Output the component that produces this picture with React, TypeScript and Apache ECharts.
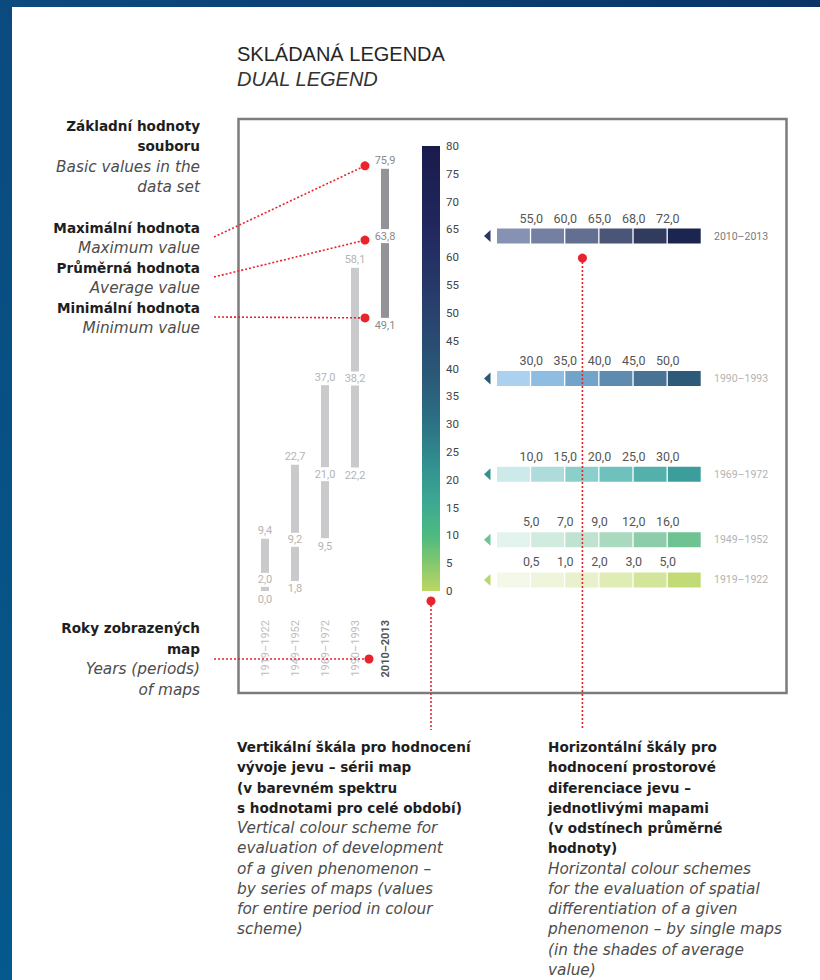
import React, { useEffect, useRef } from 'react';
import * as echarts from 'echarts';

// ---------- data ----------
const periods = ['1919–1922', '1949–1952', '1969–1972', '1990–1993', '2010–2013'];
const minValues = [0.0, 1.8, 9.5, 22.2, 49.1];
const avgValues = [2.0, 9.2, 21.0, 38.2, 63.8];
const maxValues = [9.4, 22.7, 37.0, 58.1, 75.9];
const scaleMin = 0;
const scaleMax = 80;
const scaleStep = 5;
const classBreaks = [
  [0.5, 1.0, 2.0, 3.0, 5.0],
  [5.0, 7.0, 9.0, 12.0, 16.0],
  [10.0, 15.0, 20.0, 25.0, 30.0],
  [30.0, 35.0, 40.0, 45.0, 50.0],
  [55.0, 60.0, 65.0, 68.0, 72.0],
];
const classColors = [
  ['#f4f8e8', '#eef5da', '#e8f1cb', '#dfecb4', '#d3e59b', '#c3db76'],
  ['#e3f3ee', '#d2ebdf', '#c0e3d1', '#a9d9bf', '#8ecdaa', '#6dc391'],
  ['#cdeaea', '#aedcdc', '#8bcfcc', '#6ec1bc', '#53b0ab', '#3c9e9b'],
  ['#abd1ee', '#8fbde2', '#72a4c9', '#5e8bb0', '#487395', '#2e5a7a'],
  ['#8592b3', '#7380a1', '#636f90', '#4b5577', '#303b5e', '#1b254f'],
];
const markerColors = ['#b9d76f', '#6cc39a', '#35918e', '#2b5873', '#2a3566'];
const scaleStops = [
  [0, '#191b4b'],
  [0.2, '#22295f'],
  [0.35, '#283e6c'],
  [0.5, '#2a5676'],
  [0.62, '#2c7084'],
  [0.72, '#32918f'],
  [0.8, '#3da893'],
  [0.88, '#4fbb80'],
  [0.94, '#86c86c'],
  [1, '#bcd763'],
];

const titleLines = ['SKLÁDANÁ LEGENDA', 'DUAL LEGEND'];
const noteBasic = [['Základní hodnoty', 'b'], ['souboru', 'b'], ['Basic values in the', 'i'], ['data set', 'i']];
const noteMinMax = [
  ['Maximální hodnota', 'b'], ['Maximum value', 'i'],
  ['Průměrná hodnota', 'b'], ['Average value', 'i'],
  ['Minimální hodnota', 'b'], ['Minimum value', 'i'],
];
const noteYears = [['Roky zobrazených', 'b'], ['map', 'b'], ['Years (periods)', 'i'], ['of maps', 'i']];
const noteVertical = [
  ['Vertikální škála pro hodnocení', 'b'],
  ['vývoje jevu – sérii map', 'b'],
  ['(v barevném spektru', 'b'],
  ['s hodnotami pro celé období)', 'b'],
  ['Vertical colour scheme for', 'i'],
  ['evaluation of development', 'i'],
  ['of a given phenomenon –', 'i'],
  ['by series of maps (values', 'i'],
  ['for entire period in colour', 'i'],
  ['scheme)', 'i'],
];
const noteHorizontal = [
  ['Horizontální škály pro', 'b'],
  ['hodnocení prostorové', 'b'],
  ['diferenciace jevu –', 'b'],
  ['jednotlivými mapami', 'b'],
  ['(v odstínech průměrné', 'b'],
  ['hodnoty)', 'b'],
  ['Horizontal colour schemes', 'i'],
  ['for the evaluation of spatial', 'i'],
  ['differentiation of a given', 'i'],
  ['phenomenon – by single maps', 'i'],
  ['(in the shades of average', 'i'],
  ['value)', 'i'],
];

// ---------- helpers ----------
const FONT = 'Roboto, "Noto Sans", sans-serif';
const NOTE_FONT = '"DejaVu Sans", Verdana, sans-serif';
const fmt = (v: number) => v.toFixed(1).replace('.', ',');
const RED = '#e8232c';
const LAST = periods.length - 1;

function txt(text: string, x: number, y: number, extra: any = {}) {
  return {
    type: 'text',
    silent: true,
    style: {
      text, x, y,
      align: 'center', textAlign: 'center',
      verticalAlign: 'middle', textVerticalAlign: 'middle',
      fontFamily: FONT,
      fontSize: 11,
      fill: '#999',
      ...extra,
    },
  };
}

function noteBlock(lines: string[][], x: number, y0: number, step: number, align: string) {
  return lines.map((l, i) =>
    txt(l[0], x, y0 + i * step, {
      align, textAlign: align,
      fontFamily: NOTE_FONT,
      fontSize: l[1] === 'b' ? 13.6 : 15.3,
      fontWeight: l[1] === 'b' ? 'bold' : 'normal',
      fontStyle: l[1] === 'i' ? 'italic' : 'normal',
      fill: l[1] === 'b' ? '#1e1e1e' : '#4d4d4d',
    })
  );
}

function dotted(x1: number, y1: number, x2: number, y2: number) {
  return {
    type: 'line', silent: true, z: 50,
    shape: { x1, y1, x2, y2 },
    style: { stroke: RED, lineWidth: 1.6, lineDash: [2, 2] },
  };
}
function dot(cx: number, cy: number) {
  return { type: 'circle', silent: true, z: 51, shape: { cx, cy, r: 4.5 }, style: { fill: RED } };
}

export default function App() {
  const ref = useRef<HTMLDivElement>(null);

  useEffect(() => {
    if (!ref.current) return;
    const chart = echarts.init(ref.current, null, { renderer: 'svg' });
    const gridTop = 146;
    const gridH = 445;

    const option: any = {
      animation: false,
      backgroundColor: '#ffffff',
      grid: [
        { left: 250, top: gridTop, width: 150, height: gridH, outerBoundsMode: 'none' },
        { left: 422, top: gridTop, width: 18, height: gridH, outerBoundsMode: 'none' },
        { left: 497, top: gridTop, width: 205, height: gridH, outerBoundsMode: 'none' },
      ],
      xAxis: [
        {
          gridIndex: 0, type: 'category', data: periods,
          axisLine: { show: false }, axisTick: { show: false },
          axisLabel: {
            rotate: 90, margin: 29, interval: 0,
            formatter: (v: string, i: number) => (i === LAST ? `{b|${v}}` : `{a|${v}}`),
            rich: {
              a: { color: '#bcbcbc', fontSize: 11, fontFamily: FONT },
              b: { color: '#555555', fontSize: 11, fontWeight: 'bold', fontFamily: FONT },
            },
          },
        },
        { gridIndex: 1, type: 'category', data: ['scale'], show: false },
        { gridIndex: 2, type: 'value', min: 0, max: 6, show: false },
      ],
      yAxis: [
        { gridIndex: 0, type: 'value', min: scaleMin, max: scaleMax, show: false },
        {
          gridIndex: 1, type: 'value', min: scaleMin, max: scaleMax, interval: scaleStep,
          position: 'right',
          axisLine: { show: false }, axisTick: { show: false }, splitLine: { show: false },
          axisLabel: { margin: 6, color: '#444', fontSize: 11.5, fontFamily: FONT },
        },
        { gridIndex: 2, type: 'value', min: scaleMin, max: scaleMax, show: false },
      ],
      series: [
        {
          type: 'custom',
          xAxisIndex: 0, yAxisIndex: 0,
          data: periods.map((p, i) => [i, minValues[i], avgValues[i], maxValues[i]]),
          encode: { x: 0, y: [1, 2, 3] },
          renderItem: (params: any, api: any) => {
            const i = api.value(0);
            const pMin = api.coord([i, api.value(1)]);
            const yAvg = api.coord([i, api.value(2)])[1];
            const yMax = api.coord([i, api.value(3)])[1];
            const x = pMin[0];
            const yMin = pMin[1];
            const last = i === LAST;
            const fill = last ? '#939397' : '#cacacc';
            const lc = last ? '#8a8a8a' : '#b4b4b4';
            const w = 8;
            const gap = 7;
            return {
              type: 'group',
              children: [
                { type: 'rect', shape: { x: x - w / 2, y: yMax, width: w, height: Math.max(0, yAvg - gap - yMax) }, style: { fill } },
                { type: 'rect', shape: { x: x - w / 2, y: yAvg + gap, width: w, height: Math.max(0, yMin - yAvg - gap) }, style: { fill } },
                txt(fmt(api.value(3)), x, yMax - 8, { fill: lc }),
                txt(fmt(api.value(2)), x, yAvg, { fill: lc }),
                txt(fmt(api.value(1)), x, yMin + 8, { fill: lc }),
              ],
            };
          },
        },
        {
          type: 'bar',
          xAxisIndex: 1, yAxisIndex: 1,
          data: [scaleMax],
          barWidth: '100%',
          silent: true,
          itemStyle: {
            color: new echarts.graphic.LinearGradient(0, 0, 0, 1,
              scaleStops.map((s) => ({ offset: s[0] as number, color: s[1] as string }))),
          },
        },
        {
          type: 'custom',
          xAxisIndex: 2, yAxisIndex: 2,
          data: periods.map((p, i) => [0, avgValues[i], i]),
          encode: { x: 0, y: 1 },
          renderItem: (params: any, api: any) => {
            const idx = api.value(2);
            const avg = api.value(1);
            const p0 = api.coord([0, avg]);
            const yc = p0[1];
            const h = 15;
            const children: any[] = [];
            for (let k = 0; k < 6; k++) {
              const xa = api.coord([k, avg])[0];
              const xb = api.coord([k + 1, avg])[0];
              children.push({
                type: 'rect',
                shape: { x: xa, y: yc - h / 2, width: xb - xa - 1.3, height: h },
                style: { fill: classColors[idx][k] },
              });
            }
            classBreaks[idx].forEach((b, k) => {
              const xk = api.coord([k + 1, avg])[0];
              children.push(txt(fmt(b), xk, yc - 18, { fontSize: 12.5, fill: '#555' }));
            });
            children.push({
              type: 'polygon',
              shape: { points: [[p0[0] - 13, yc], [p0[0] - 6.5, yc - 6], [p0[0] - 6.5, yc + 6]] },
              style: { fill: markerColors[idx] },
            });
            const xe = api.coord([6, avg])[0];
            children.push(txt(periods[idx], xe + 12, yc, {
              align: 'left', textAlign: 'left', fontSize: 10.5,
              fill: idx === LAST ? '#7a7a7a' : '#b3b3b3',
            }));
            return { type: 'group', children };
          },
        },
      ],
    };
    chart.setOption(option);

    const c = (gi: number, x: any, y: number) =>
      chart.convertToPixel({ xAxisIndex: gi, yAxisIndex: gi } as any, [x, y]) as number[];

    const pMax = c(0, LAST, maxValues[LAST]);
    const pAvg = c(0, LAST, avgValues[LAST]);
    const pMin = c(0, LAST, minValues[LAST]);
    const pZero = c(0, LAST, 0);
    const dx = pMax[0] - 20;
    const cb = c(1, 0, scaleMin);
    const hs = c(2, 2.5, avgValues[LAST]);

    const graphic: any[] = [
      // page frame
      {
        type: 'rect', silent: true, shape: { x: 0, y: 0, width: 820, height: 7 },
        style: { fill: new echarts.graphic.LinearGradient(0, 0, 1, 0, [
          { offset: 0, color: '#0d4a7e' }, { offset: 1, color: '#0a3466' }]) },
      },
      {
        type: 'rect', silent: true, shape: { x: 0, y: 0, width: 12, height: 980 },
        style: { fill: new echarts.graphic.LinearGradient(0, 0, 0, 1, [
          { offset: 0, color: '#0b4a7e' }, { offset: 1, color: '#05598c' }]) },
      },
      // box
      {
        type: 'rect', silent: true, z: -1,
        shape: { x: 238.5, y: 119, width: 548, height: 574 },
        style: { fill: 'none', stroke: '#7c7c7c', lineWidth: 2.5 },
      },
      // title
      txt(titleLines[0], 237, 54, { align: 'left', textAlign: 'left', fontSize: 20, fill: '#262626', fontFamily: '"Liberation Sans", Arial, sans-serif' }),
      txt(titleLines[1], 237, 79, { align: 'left', textAlign: 'left', fontSize: 20, fontStyle: 'italic', fill: '#333', fontFamily: '"Liberation Sans", Arial, sans-serif' }),
      ...noteBlock(noteBasic, 200, 126, 20.3, 'right'),
      ...noteBlock(noteMinMax, 200, 228, 20, 'right'),
      ...noteBlock(noteYears, 200, 628, 20.6, 'right'),
      ...noteBlock(noteVertical, 237, 747, 20.25, 'left'),
      ...noteBlock(noteHorizontal, 548, 747, 20.25, 'left'),
      // leader lines
      dotted(214, 237, dx, pMax[1] - 3),
      dot(dx, pMax[1] - 3),
      dotted(214, 277, dx, pAvg[1] + 4),
      dot(dx, pAvg[1] + 4),
      dotted(214, 317, dx, pMin[1]),
      dot(dx, pMin[1]),
      dotted(214, pZero[1] + 68, pZero[0] - 16, pZero[1] + 68),
      dot(pZero[0] - 16, pZero[1] + 68),
      dotted(cb[0], cb[1] + 10, cb[0], 730),
      dot(cb[0], cb[1] + 10),
      dotted(hs[0], hs[1] + 22, hs[0], 730),
      dot(hs[0], hs[1] + 22),
    ];
    chart.setOption({ graphic });

    return () => chart.dispose();
  }, []);

  return <div ref={ref} style={{ position: 'absolute', left: 0, top: 0, width: 820, height: 980 }} />;
}
